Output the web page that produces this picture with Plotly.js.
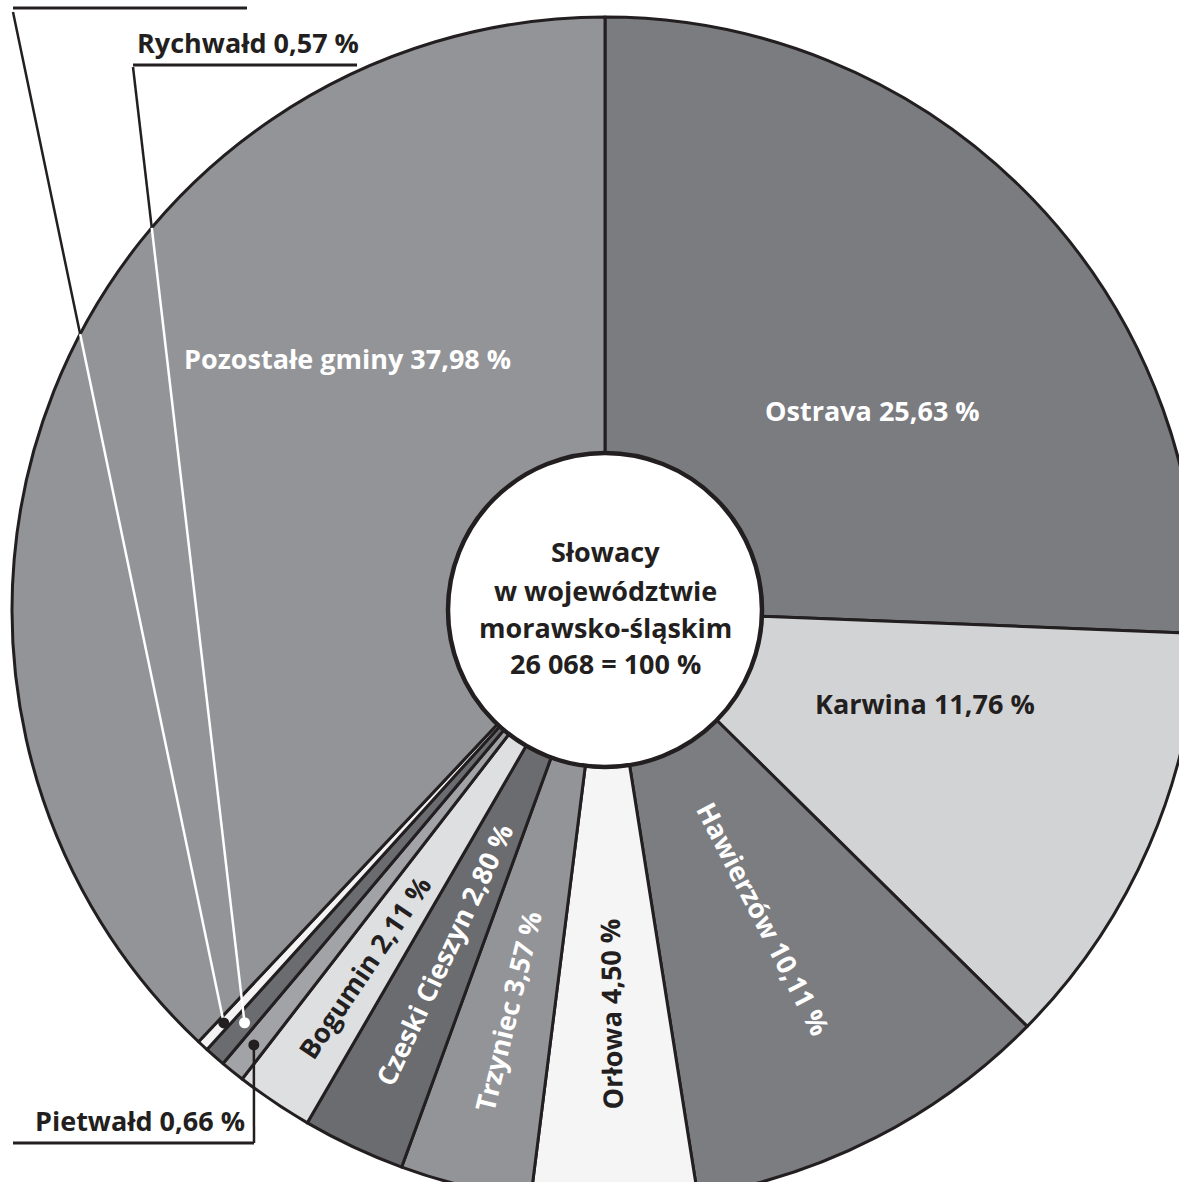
<!DOCTYPE html>
<html>
<head>
<meta charset="utf-8">
<script src="https://cdn.plot.ly/plotly-3.0.1.min.js"></script>
<style>
html,body{margin:0;padding:0;overflow:hidden;width:1179px;height:1182px;background:#fff;}
#chart{width:1210px;height:1220px;}
</style>
</head>
<body>
<div id="chart"></div>
<script>
// ---- data ----
const sliceNames = ["Ostrava","Karwina","Hawierzów","Orłowa","Trzyniec","Czeski Cieszyn","Bogumin","Pietwałd","Rychwałd","(gmina 0,31 %)","Pozostałe gminy"];
const sliceValues = [25.63, 11.76, 10.11, 4.50, 3.57, 2.80, 2.11, 0.66, 0.57, 0.31, 37.98];
const sliceText = ["Ostrava 25,63 %","Karwina 11,76 %","Hawierzów 10,11 %","Orłowa 4,50 %","Trzyniec 3,57 %","Czeski Cieszyn 2,80 %","Bogumin 2,11 %","Pietwałd 0,66 %","Rychwałd 0,57 %","","Pozostałe gminy 37,98 %"];
const centerLines = ["Słowacy","w województwie","morawsko-śląskim","26 068 = 100 %"];

// ---- styling ----
const sliceColors = ['#7b7c80','#d2d3d5','#7c7d81','#f5f5f5','#939498','#6b6c70','#dedfe1','#a2a3a7','#6b6c70','#f3f3f3','#939498'];
const W = 1210, H = 1220, CX = 605, CY = 610, R = 593, HOLE = 157;
const FONT = 'Open Sans, sans-serif';
const FS = 27;
const DARK = '#231f20';

function px(x){ return x / W; }
function py(y){ return 1 - y / H; }

const total = sliceValues.reduce((a,b)=>a+b,0);
const cum = []; let acc = 0;
sliceValues.forEach(v=>{ cum.push(acc); acc += v; });
function midPhi(i){ // screen angle in degrees, from +x, clockwise
  const f = (cum[i] + sliceValues[i]*0.5) / total;
  return f*360 - 90;
}
function polar(i, r){
  const p = midPhi(i) * Math.PI/180;
  return [CX + r*Math.cos(p), CY + r*Math.sin(p)];
}

const annotations = [];
const shapes = [];

// in-slice labels (radial)
const radialLabels = [
  {i:2, r:347, color:'#ffffff'},
  {i:3, r:404, color:DARK},
  {i:4, r:412, color:'#ffffff'},
  {i:5, r:380, color:'#ffffff'},
  {i:6, r:430, color:DARK}
];
radialLabels.forEach(l=>{
  const [x,y] = polar(l.i, l.r);
  const phi = midPhi(l.i);
  const ang = phi < 85 ? phi : phi - 180;
  annotations.push({xref:'paper',yref:'paper',x:px(x),y:py(y),text:sliceText[l.i],showarrow:false,
    textangle:ang,xanchor:'center',yanchor:'middle',font:{family:FONT,size:FS,color:l.color,weight:700}});
});
// in-slice labels (horizontal)
const flatLabels = [
  {i:0, x:872, y:410, color:'#ffffff'},
  {i:1, x:925, y:703, color:DARK},
  {i:10, x:348, y:358, color:'#ffffff'}
];
flatLabels.forEach(l=>{
  annotations.push({xref:'paper',yref:'paper',x:px(l.x),y:py(l.y),text:sliceText[l.i],showarrow:false,
    xanchor:'center',yanchor:'middle',font:{family:FONT,size:FS,color:l.color,weight:700}});
});

// center text
const centerY = [552, 590, 627, 663];
centerLines.forEach((t,k)=>{
  annotations.push({xref:'paper',yref:'paper',x:px(CX),y:py(centerY[k]),text:t,showarrow:false,
    xanchor:'center',yanchor:'middle',font:{family:FONT,size:FS,color:DARK,weight:700}});
});

// hole ring
shapes.push({type:'circle',xref:'paper',yref:'paper',layer:'above',
  x0:px(CX-HOLE),x1:px(CX+HOLE),y0:py(CY+HOLE),y1:py(CY-HOLE),
  fillcolor:'#ffffff',line:{color:DARK,width:4.5}});

function line(x0,y0,x1,y1,color,width){
  shapes.push({type:'line',xref:'paper',yref:'paper',layer:'above',x0:px(x0),y0:py(y0),x1:px(x1),y1:py(y1),
    line:{color:color,width:width||2.5}});
}
function dot(x,y,color){
  const r=5.5;
  shapes.push({type:'circle',xref:'paper',yref:'paper',layer:'above',x0:px(x-r),x1:px(x+r),y0:py(y+r),y1:py(y-r),
    fillcolor:color,line:{color:color,width:0}});
}
function edgePoint(dx,dy,cx2,cy2){
  const vx=cx2-dx, vy=cy2-dy, wx=dx-CX, wy=dy-CY;
  const a=vx*vx+vy*vy, b=2*(vx*wx+vy*wy), c=wx*wx+wy*wy-R*R;
  const t=(-b+Math.sqrt(b*b-4*a*c))/(2*a);
  return [dx+t*vx, dy+t*vy];
}

// callouts
const callouts = [
  {i:9, r:562, corner:[13,12], hStart:[13,8], hEnd:[247,8], inner:'#ffffff', dotColor:DARK},
  {i:8, r:548, corner:[133,67], hStart:[133,65], hEnd:[357,65], inner:'#ffffff', dotColor:'#ffffff', tx:135, ty:42},
  {i:7, r:559, corner:[254,1143], hStart:[13,1143], hEnd:[254,1143], inner:DARK, dotColor:DARK, tx:33, ty:1120}
];
callouts.forEach(c=>{
  const [dx,dy] = polar(c.i, c.r);
  const [ex,ey] = edgePoint(dx,dy,c.corner[0],c.corner[1]);
  line(dx,dy,ex,ey,c.inner,2.5);
  line(ex,ey,c.corner[0],c.corner[1],DARK,2.5);
  line(c.hStart[0],c.hStart[1],c.hEnd[0],c.hEnd[1],DARK,3);
  dot(dx,dy,c.dotColor);
  if (sliceText[c.i]) {
    annotations.push({xref:'paper',yref:'paper',x:px(c.tx),y:py(c.ty),text:sliceText[c.i],showarrow:false,
      xanchor:'left',yanchor:'middle',font:{family:FONT,size:FS,color:DARK,weight:700}});
  }
});

const trace = {
  type:'pie', labels:sliceNames, values:sliceValues, sort:false, direction:'clockwise', rotation:0,
  hole: HOLE/R, textinfo:'none', hoverinfo:'none', showlegend:false,
  marker:{colors:sliceColors, line:{color:DARK, width:3}},
  domain:{x:[(CX-R)/W,(CX+R)/W], y:[(H-CY-R)/H,(H-CY+R)/H]}
};

const layout = {
  width:W, height:H, margin:{l:0,r:0,t:0,b:0}, paper_bgcolor:'#ffffff', plot_bgcolor:'#ffffff',
  showlegend:false, annotations:annotations, shapes:shapes
};
Plotly.newPlot('chart',[trace],layout,{displayModeBar:false,staticPlot:true});
</script>
</body>
</html>
